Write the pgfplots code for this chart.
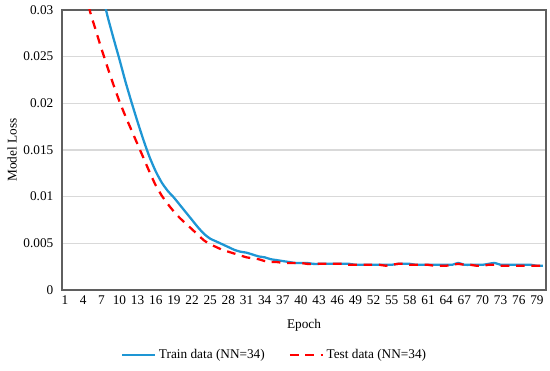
\documentclass[border=0pt]{standalone}
\usepackage{pgfplots}
\pgfplotsset{compat=1.18}
\usepackage{fontspec}
\setmainfont{Liberation Serif}
\definecolor{trainblue}{RGB}{30,150,212}
\definecolor{axgray}{RGB}{95,95,95}
\definecolor{gridgray}{RGB}{217,217,217}
\begin{document}
\begin{tikzpicture}
\begin{axis}[
  scale only axis,
  width=363bp, height=210bp,
  at={(46.5bp,60.75bp)}, anchor=south west,
  xmin=0.5, xmax=80.5,
  ymin=0, ymax=0.03,
  xtick={1,4,...,79},
  ytick={0,0.005,0.01,0.015,0.02,0.025,0.03},
  scaled y ticks=false,
  /pgf/number format/assume math mode=true,
  yticklabel style={/pgf/number format/fixed,/pgf/number format/precision=3,xshift=-3bp},
  xticklabel style={yshift=-1bp},
  major tick length=0pt,
  ymajorgrids,
  major grid style={gridgray, line width=0.9bp},
  axis line style={axgray, line width=1.3bp},
  tick label style={font=\fontsize{10}{12}\selectfont},
  label style={font=\fontsize{10}{12}\selectfont},
  xlabel={Epoch},
  ylabel={Model Loss},
  every axis x label/.style={at={(axis description cs:0.5,-0.125)}, anchor=center},
  every axis y label/.style={at={(axis description cs:-0.1033,0.5)}, anchor=center, rotate=90},
  legend columns=2,
  legend style={at={(0.44,-0.232)}, anchor=center, draw=none, fill=none,
    font=\fontsize{10}{12}\selectfont,
    /tikz/every even column/.append style={column sep=16bp}},
  legend image code/.code={\draw[#1] (0cm,0cm) -- (0.87cm,0cm);},
]
\addplot[trainblue, line width=1.7bp, smooth, tension=0.4] coordinates {
(1,0.057)(2,0.051)(3,0.046)(4,0.042)(5,0.038)(6,0.035)(7,0.0322)(8,0.0294)(9,0.0270)(10,0.0247)
(11,0.0223)(12,0.0201)(13,0.0180)(14,0.0160)(15,0.0142)(16,0.0127)(17,0.0115)(18,0.0106)(19,0.0099)(20,0.0091)
(21,0.0083)(22,0.0075)(23,0.0067)(24,0.0060)(25,0.0055)(26,0.0052)(27,0.0049)(28,0.0046)(29,0.0043)(30,0.0041)
(31,0.0040)(32,0.0038)(33,0.0036)(34,0.0035)(35,0.0033)(36,0.0032)(37,0.0031)(38,0.0030)(39,0.0029)(40,0.0029)
(41,0.0029)(42,0.0028)(43,0.0028)(44,0.0028)(45,0.0028)(46,0.0028)(47,0.0028)(48,0.0028)(49,0.0027)(50,0.0027)
(51,0.0027)(52,0.0027)(53,0.0027)(54,0.0027)(55,0.0027)(56,0.0028)(57,0.0028)(58,0.0028)(59,0.0027)(60,0.0027)
(61,0.0027)(62,0.0027)(63,0.0027)(64,0.0027)(65,0.0027)(66,0.0029)(67,0.0027)(68,0.0027)(69,0.0027)(70,0.0027)
(71,0.0028)(72,0.0029)(73,0.0027)(74,0.0027)(75,0.0027)(76,0.0027)(77,0.0027)(78,0.0027)(79,0.0026)(80,0.0026)
};
\addlegendentry{Train data (NN=34)}
\addplot[red, line width=1.7bp, dash pattern=on 6.5bp off 5bp, smooth, tension=0.4] coordinates {
(1,0.050)(2,0.044)(3,0.039)(4,0.034)(5,0.0302)(6,0.0280)(7,0.0259)(8,0.0239)(9,0.0220)(10,0.0202)
(11,0.0186)(12,0.0171)(13,0.0156)(14,0.0141)(15,0.0126)(16,0.0112)(17,0.0101)(18,0.0092)(19,0.0084)(20,0.0077)
(21,0.0071)(22,0.0065)(23,0.0059)(24,0.0053)(25,0.0049)(26,0.0046)(27,0.0043)(28,0.0041)(29,0.0039)(30,0.0037)
(31,0.0035)(32,0.0034)(33,0.0033)(34,0.0031)(35,0.0030)(36,0.0030)(37,0.0029)(38,0.0029)(39,0.0029)(40,0.0029)
(41,0.0028)(42,0.0028)(43,0.0028)(44,0.0028)(45,0.0028)(46,0.0028)(47,0.0028)(48,0.0027)(49,0.0027)(50,0.0027)
(51,0.0027)(52,0.0027)(53,0.0027)(54,0.0026)(55,0.0027)(56,0.0028)(57,0.0028)(58,0.0027)(59,0.0027)(60,0.0027)
(61,0.0027)(62,0.0026)(63,0.0026)(64,0.0026)(65,0.0027)(66,0.0028)(67,0.0027)(68,0.0027)(69,0.0026)(70,0.0026)
(71,0.0027)(72,0.0027)(73,0.0026)(74,0.0026)(75,0.0026)(76,0.0026)(77,0.0026)(78,0.0026)(79,0.0026)(80,0.0026)
};
\addlegendentry{Test data (NN=34)}
\end{axis}
\pgfresetboundingbox
\useasboundingbox (0,0) rectangle (412.5bp,278.25bp);
\end{tikzpicture}
\end{document}
